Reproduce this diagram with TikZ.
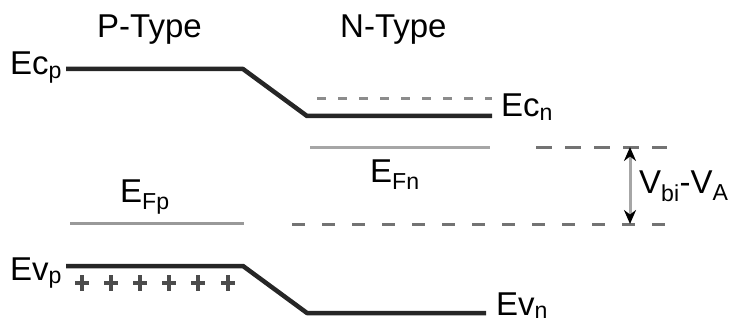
\documentclass[tikz,border=0pt]{standalone}
\usepackage{fontspec}
\setmainfont{Liberation Sans}
\usetikzlibrary{arrows.meta}
\begin{document}
\begin{tikzpicture}[x=1pt,y=-1pt,
  band/.style={line width=4.5pt,black!85},
  fermi/.style={line width=3pt,black!35},
  dashA/.style={line width=3pt,black!45,dash pattern=on 9pt off 12pt},
  dashB/.style={line width=3pt,black!55,dash pattern=on 14pt off 16pt},
  lbl/.style={inner sep=0pt,font=\fontsize{33}{38}\selectfont},
  plusmark/.style={line width=4pt,black!70},
  vbarrow/.style={line width=3pt,black!35}]
\useasboundingbox (0,0) rectangle (733,326);
% titles
\node[lbl,anchor=base west] (ptype) at (97,38) {P-Type};
\node[lbl,anchor=base west] (ntype) at (340,38) {N-Type};
% conduction band
\coordinate (c1) at (66,69);
\coordinate (c2) at (243,69);
\coordinate (c3) at (307,116);
\coordinate (c4) at (492,116);
\draw[band,line join=round] (c1) -- (c2) -- (c3) -- (c4);
% dashed above Ec_n
\coordinate (d1) at (317,99);
\coordinate (d2) at (492,99);
\draw[dashA] (d1) -- (d2);
% valence band
\coordinate (v1) at (66,266);
\coordinate (v2) at (243,266);
\coordinate (v3) at (307,313);
\coordinate (v4) at (486,313);
\draw[band,line join=round] (v1) -- (v2) -- (v3) -- (v4);
% Fermi levels
\coordinate (fn1) at (310,147);
\coordinate (fn2) at (490,147);
\draw[fermi] (fn1) -- (fn2);
\coordinate (fp1) at (70,223);
\coordinate (fp2) at (244,223);
\draw[fermi,black!40] (fp1) -- (fp2);
% dashed reference lines
\coordinate (r1) at (536,147);
\coordinate (r2) at (667,147);
\draw[dashB,dash pattern=on 16pt off 13pt] (r1) -- (r2);
\coordinate (l1) at (292,224);
\coordinate (l2) at (667,224);
\draw[dashB,dash pattern=on 13pt off 17pt] (l1) -- (l2);
% arrow
\coordinate (a1) at (630,147);
\coordinate (a2) at (630,224);
\draw[vbarrow,{Stealth[black,length=14pt,width=12pt]}-{Stealth[black,length=14pt,width=12pt]}] (a1) -- (a2);
% plus signs
\foreach \i in {82,111,140,169,198,228}{
  \draw[plusmark] (\i-7,283) -- (\i+7,283) (\i,275) -- (\i,291);
}
% labels
\node[lbl,anchor=base west] (ecp) at (10,75) {Ec\textsubscript{p}};
\node[lbl,anchor=base west] (ecn) at (501,117) {Ec\textsubscript{n}};
\node[lbl,anchor=base west] (efn) at (370,182) {E\textsubscript{Fn}};
\node[lbl,anchor=base west] (efp) at (120,202) {E\textsubscript{Fp}};
\node[lbl,anchor=base west] (evp) at (10,280) {Ev\textsubscript{p}};
\node[lbl,anchor=base west] (evn) at (496,315) {Ev\textsubscript{n}};
\node[lbl,anchor=base west] (vbi) at (639,193) {V\textsubscript{bi}-V\textsubscript{A}};
\end{tikzpicture}
\end{document}
